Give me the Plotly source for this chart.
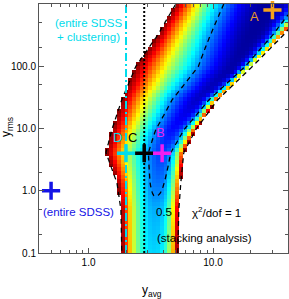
import numpy as np
import plotly.graph_objects as go

# ---------------- values ----------------
# chi^2 map, described row by row (row = one y_rms level)
row_yrms = [1000, 320, 100, 29, 9.6, 4.1, 1.35, 0.5, 0.1]
row_left = [5.02, 3.60, 2.40, 1.85, 1.54, 1.38, 1.69, 1.82, 1.85]    # y_avg where the map starts
row_best = [26.5, 19.7, 14.1, 7.26, 4.58, 3.73, 3.47, 3.34, 3.28]    # y_avg of the lowest chi^2
row_right = [59.7, 36.9, 20.8, 10.9, 7.26, 5.82, 5.51, 5.31, 5.21]   # y_avg where the map ends
row_floor = [0.02, 0.02, 0.03, 0.06, 0.12, 0.17, 0.22, 0.28, 0.32]   # lowest (scaled) chi^2 of the row
row_rise_left = [1.9, 1.7, 1.4, 1.4, 1.4, 1.5, 1.7, 1.9, 2.0]
row_rise_right = [4.0, 3.8, 3.5, 3.2, 3.0, 3.0, 3.0, 3.0, 3.0]
contour_levels = [0.25, 1.0]

# marked models
pt_names = ["A", "D", "C", "B", "SDSS"]
pt_yavg = [30.0, 2.0, 2.8, 3.9, 0.5]
pt_yrms = [800.0, 4.0, 4.0, 4.0, 1.0]
pt_colors = ["#f4a11c", "#00dcec", "#000000", "#f01ef0", "#1414e6"]

# vertical constraints
clustering_yavg = 2.0
stacking_yavg = 2.8

# axes
x_range = [0.4, 40]
y_range = [0.1, 1000]
x_ticks = [1, 10]
x_ticktext = ["1.0", "10.0"]
y_ticks = [0.1, 1, 10, 100, 1000]
y_ticktext = ["0.1", "1.0", "10.0", "100.0", "1000."]
x_minor = [0.5, 0.6, 0.7, 0.8, 0.9, 2, 3, 4, 5, 6, 7, 8, 9, 20, 30]
y_minor = [0.2, 0.5, 2, 5, 20, 50, 200, 500]


def chi_map(xv, yv):
    X, Y = np.meshgrid(xv, yv)
    lv = np.log10(Y)
    ref = np.log10(row_yrms)[::-1]

    def at(arr, log=False):
        a = np.asarray(arr, float)[::-1]
        if log:
            a = np.log10(a)
        return np.interp(lv, ref, a)

    uL, uB, uR = at(row_left, True), at(row_best, True), at(row_right, True)
    m = at(row_floor)
    pL, pR = at(row_rise_left), at(row_rise_right)
    u = np.log10(X)
    tl = np.clip((uB - u) / (uB - uL), 0, None)
    tr = np.clip((u - uB) / (uR - uB), 0, None)
    return np.where(u < uB, m + (1 - m) * tl ** pL, m + (1 - m) * tr ** pR)


lx0, lx1 = np.log10(x_range)
ly0, ly1 = np.log10(y_range)
ncell = 64
x_edges = np.logspace(lx0, lx1, ncell + 1)
y_edges = np.logspace(ly0, ly1, ncell + 1)
xc = np.sqrt(x_edges[:-1] * x_edges[1:])
yc = np.sqrt(y_edges[:-1] * y_edges[1:])
z = chi_map(xc, yc)
z_show = np.where(z <= 1.0, z, np.nan)

nf = 320
xf = np.logspace(lx0, lx1, nf)
yf = np.logspace(ly0, ly1, nf)
zf = chi_map(xf, yf)

jet = [[0.0, "rgb(0,0,135)"], [0.11, "rgb(0,0,255)"], [0.36, "rgb(0,255,255)"],
       [0.61, "rgb(255,255,0)"], [0.86, "rgb(255,0,0)"], [1.0, "rgb(128,0,0)"]]

FONT = "Liberation Sans, Arial, Helvetica, sans-serif"

fig = go.Figure()
fig.add_trace(go.Heatmap(x=x_edges, y=y_edges, z=z_show, colorscale=jet, zmin=0, zmax=1,
                         showscale=False, hoverinfo="skip"))
fig.add_trace(go.Contour(x=xf, y=yf, z=zf, showscale=False, hoverinfo="skip",
                         contours=dict(coloring="none", start=contour_levels[0], end=contour_levels[1],
                                       size=contour_levels[1] - contour_levels[0]),
                         line=dict(color="black", width=1.3, dash="5px,4px")))
fig.add_trace(go.Scatter(x=[clustering_yavg, clustering_yavg], y=y_range, mode="lines",
                         line=dict(color="#00dcec", width=2, dash="8px,3px,2px,3px"), hoverinfo="skip"))
fig.add_trace(go.Scatter(x=[stacking_yavg, stacking_yavg], y=y_range, mode="lines",
                         line=dict(color="black", width=2, dash="2px,2px"), hoverinfo="skip"))
fig.add_trace(go.Scatter(x=pt_yavg, y=pt_yrms, mode="markers", hoverinfo="skip", cliponaxis=False,
                         marker=dict(symbol="cross-thin", size=13, color=pt_colors,
                                     line=dict(color=pt_colors, width=3.5))))

def note(text, x, y, color, size=11.5):
    fig.add_annotation(x=np.log10(x), y=np.log10(y), xref="x", yref="y", text=text, showarrow=False,
                       font=dict(family=FONT, size=size, color=color), xanchor="center", yanchor="middle")

note("(entire SDSS", 0.99, 500, "#00dcec")
note("+ clustering)", 0.99, 300, "#00dcec")
note("D", 1.72, 7.1, "#00dcec", 13)
note("C", 2.27, 7.1, "black", 13)
note("B", 3.8, 8.6, "#f01ef0", 13)
note("A", 21.6, 630, "#e8982a", 13)
note("(entire SDSS)", 0.836, 0.46, "#1414e6")
note("0.5", 4.02, 0.46, "black")
note("\u03c7<sup>2</sup>/dof = 1", 10.7, 0.46, "black")
note("(stacking analysis)", 8.6, 0.175, "black")

fig.add_annotation(xref="paper", yref="paper", x=(152 - 39) / 249, y=(253 - 291) / 249,
                   text="y<sub>avg</sub>", showarrow=False, font=dict(family=FONT, size=12, color="black"),
                   xanchor="center", yanchor="middle")
fig.add_annotation(xref="paper", yref="paper", x=(7 - 39) / 249, y=(253 - 127) / 249,
                   text="y<sub>rms</sub>", showarrow=False, textangle=-90,
                   font=dict(family=FONT, size=12, color="black"), xanchor="center", yanchor="middle")

axis_common = dict(type="log", showgrid=False, zeroline=False, showline=True, linecolor="#555555",
                   linewidth=1, mirror="ticks", ticks="inside", ticklen=5, tickcolor="#555555",
                   automargin=False, tickfont=dict(family=FONT, size=10, color="black"))
fig.update_xaxes(range=[lx0, lx1], tickvals=x_ticks, ticktext=x_ticktext,
                 minor=dict(tickvals=x_minor, ticks="inside", ticklen=3, tickcolor="#555555", showgrid=False),
                 **axis_common)
fig.update_yaxes(range=[ly0, ly1], tickvals=y_ticks, ticktext=y_ticktext,
                 minor=dict(tickvals=y_minor, ticks="inside", ticklen=3, tickcolor="#555555", showgrid=False),
                 **axis_common)
fig.update_layout(width=289, height=299, margin=dict(l=39, r=1, t=4, b=46),
                  plot_bgcolor="white", paper_bgcolor="white", showlegend=False)
fig.write_html("out.html", config={"displayModeBar": False},
               post_script="document.body.style.margin='0';document.body.style.overflow='hidden';")
